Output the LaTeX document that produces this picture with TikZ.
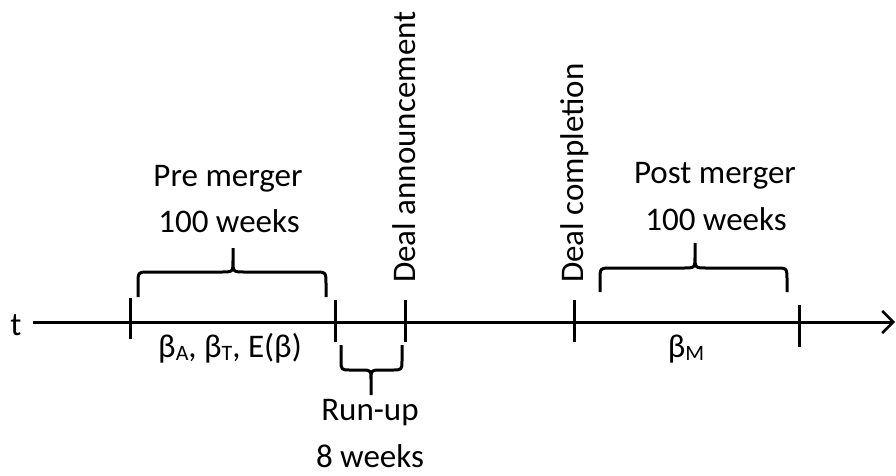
\documentclass[tikz,border=0pt]{standalone}
\usepackage{fontspec}
\setmainfont{Carlito}
\usetikzlibrary{arrows.meta}
\newcommand{\subl}[1]{\raisebox{-3pt}{\fontsize{22}{22}\selectfont #1}}
\tikzset{
  lbl/.style={inner sep=0pt, font=\fontsize{33}{40}\selectfont, anchor=base},
  vlbl/.style={inner sep=0pt, font=\fontsize{33}{40}\selectfont, rotate=90, anchor=base west},
  tick/.style={line width=3pt},
  axis/.style={line width=3pt, -{Straight Barb[length=11pt,width=22pt,line width=2.6pt]}},
  brace/.style={line width=3pt, line join=round}
}
\begin{document}
\begin{tikzpicture}[x=1pt,y=-1pt]
\useasboundingbox (0,0) rectangle (896,475);
% axis
\coordinate (a0) at (33,322);
\coordinate (a1) at (895,322);
\draw[axis] (a0) -- (a1);
\node[lbl] (t) at (16,335) {t};
% ticks
\draw[tick] (130,298) -- (130,339);
\draw[tick] (335,300) -- (335,342);
\draw[tick] (405,300) -- (405,342);
\draw[tick] (574,300) -- (574,342);
\draw[tick] (799,305) -- (799,347);
% pre merger brace (tip up)
\draw[brace] (138,297) -- (138,284) .. controls (138,272) .. (150,272) -- (221,272) .. controls (233,272) .. (233,260) -- (233,248)
  (233,260) .. controls (233,272) .. (245,272) -- (314,272) .. controls (326,272) .. (326,284) -- (326,297);
% post merger brace (tip up)
\draw[brace] (600,292) -- (600,280) .. controls (600,268) .. (612,268) -- (683,268) .. controls (695,268) .. (695,256) -- (695,243)
  (695,256) .. controls (695,268) .. (707,268) -- (775,268) .. controls (787,268) .. (787,280) -- (787,292);
% run-up brace (tip down)
\draw[brace] (341,345) -- (341,360) .. controls (341,370) .. (351,370) -- (361,370) .. controls (371,370) .. (371,380) -- (371,395)
  (371,380) .. controls (371,370) .. (381,370) -- (392,370) .. controls (402,370) .. (402,360) -- (402,345);
% labels
\node[lbl] (pre1) at (228,186) {Pre merger};
\node[lbl] (pre2) at (229,232) {100 weeks};
\node[lbl] (post1) at (715,183) {Post merger};
\node[lbl] (post2) at (716,230) {100 weeks};
\node[lbl] (run1) at (370,420) {Run-up};
\node[lbl] (run2) at (370,467) {8 weeks};
\node[lbl] (betas) at (230,357) {β\subl{A}, β\subl{T}, E(β)};
\node[lbl] (betam) at (686,357) {β\subl{M}};
\node[vlbl] (ann) at (415,283) {Deal announcement};
\node[vlbl] (comp) at (583,283) {Deal completion};
\end{tikzpicture}
\end{document}
